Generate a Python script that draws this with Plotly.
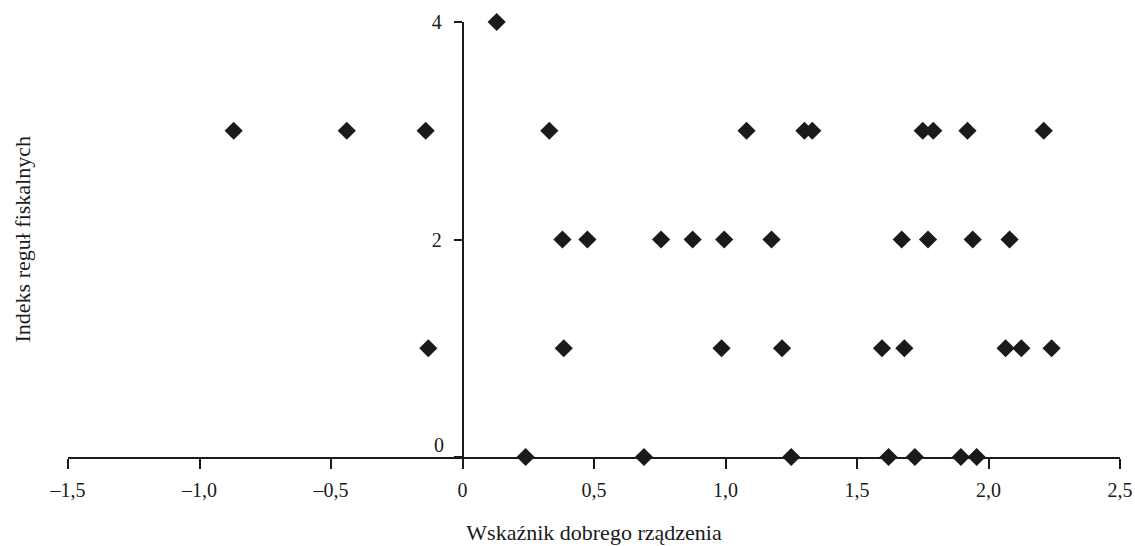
import plotly.graph_objects as go

# Data
x_idx4 = [0.13]
x_idx3 = [-0.87, -0.44, -0.14, 0.33, 1.08, 1.30, 1.33, 1.75, 1.79, 1.92, 2.21]
x_idx2 = [0.38, 0.475, 0.755, 0.875, 0.995, 1.175, 1.67, 1.77, 1.94, 2.08]
x_idx1 = [-0.13, 0.385, 0.985, 1.215, 1.595, 1.68, 2.065, 2.125, 2.24]
x_idx0 = [0.24, 0.69, 1.25, 1.62, 1.72, 1.895, 1.955]

xs = x_idx4 + x_idx3 + x_idx2 + x_idx1 + x_idx0
ys = [4] * len(x_idx4) + [3] * len(x_idx3) + [2] * len(x_idx2) + [1] * len(x_idx1) + [0] * len(x_idx0)

x_tickvals = [-1.5, -1.0, -0.5, 0, 0.5, 1.0, 1.5, 2.0, 2.5]
x_ticktext = ["–1,5", "–1,0", "–0,5", "0", "0,5", "1,0", "1,5", "2,0", "2,5"]
y_tickvals = [0, 2, 4]
y_ticktext = ["", "2", "4"]

FONT = "Liberation Serif"
INK = "#1a1a1a"
TICK_SIZE = 20
TITLE_SIZE = 22

W, H = 1135, 546
ML, MR, MT, MB = 68, 15, 22, 89

fig = go.Figure()
fig.add_trace(go.Scatter(
    x=xs, y=ys, mode="markers",
    marker=dict(symbol="diamond", size=14, color=INK, line=dict(width=0)),
    cliponaxis=False, showlegend=False,
))

plot_w = W - ML - MR

fig.update_layout(
    width=W, height=H,
    margin=dict(l=ML, r=MR, t=MT, b=MB, autoexpand=False),
    paper_bgcolor="white", plot_bgcolor="white",
    font=dict(family=FONT, size=TICK_SIZE, color=INK),
    xaxis=dict(
        range=[-1.5, 2.5], showgrid=False, zeroline=False,
        showline=True, linecolor=INK, linewidth=1.5,
        ticks="outside", ticklen=10, tickwidth=1.5, tickcolor=INK,
        tickvals=x_tickvals, ticktext=x_ticktext,
        ticklabelstandoff=4,
        title=dict(text="Wskaźnik dobrego rządzenia", standoff=25,
                   font=dict(family=FONT, size=TITLE_SIZE)),
    ),
    yaxis=dict(
        range=[0, 4], showgrid=False, zeroline=False,
        anchor="free", position=0.375,
        showline=True, linecolor=INK, linewidth=1.5,
        ticks="outside", ticklen=8, tickwidth=1.5, tickcolor=INK,
        tickvals=y_tickvals, ticktext=y_ticktext,
        ticklabelstandoff=8,
    ),
    annotations=[
        dict(text="0", x=0, y=0, xref="x", yref="y", xanchor="right", yanchor="bottom",
             xshift=-17, yshift=-1, showarrow=False,
             font=dict(family=FONT, size=TICK_SIZE, color=INK)),
        dict(text="Indeks reguł fiskalnych", x=(22 - ML) / plot_w, y=0.5,
             xref="paper", yref="paper", xanchor="center", yanchor="middle",
             textangle=-90, showarrow=False,
             font=dict(family=FONT, size=TITLE_SIZE, color=INK)),
    ],
)

fig.write_html("out.html", config={"displayModeBar": False},
               post_script="document.body.style.margin='0';")
